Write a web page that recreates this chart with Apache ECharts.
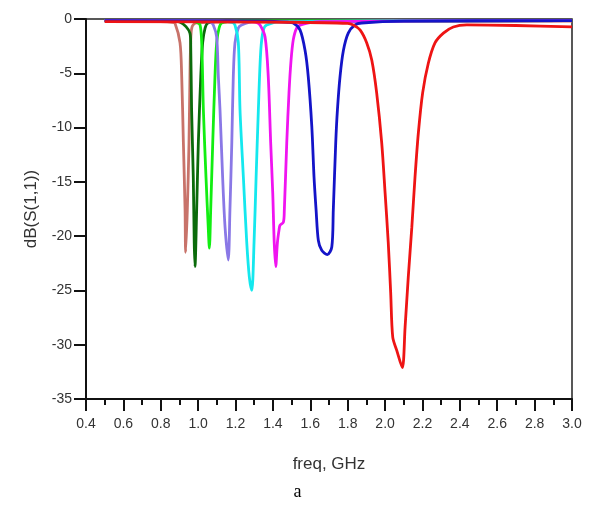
<!DOCTYPE html>
<html><head><meta charset="utf-8">
<script src="https://cdn.jsdelivr.net/npm/echarts@6/dist/echarts.min.js"></script>
<style>html,body{margin:0;padding:0;background:#fff}#c{width:595px;height:506px}</style>
</head><body><div id="c"></div>
<script>
// x tick labels (GHz) and y tick values (dB)
const xTicks = [0.4,0.6,0.8,1.0,1.2,1.4,1.6,1.8,2.0,2.2,2.4,2.6,2.8,3.0];
const yTicks = [0,-5,-10,-15,-20,-25,-30,-35];

// [freq GHz, dB]
const brown = [[0.5,-0.2],[0.8,-0.25],[0.86,-0.3],[0.876,-0.4],[0.903,-2.2],[0.912,-5.3],[0.921,-11.4],[0.93,-17.6],[0.933,-21.5],[0.942,-17.6],[0.951,-11.4],[0.956,-5.3],[0.96,-2.2],[0.967,-0.74],[0.99,-0.35],[1.2,-0.25],[3.0,-0.2]];
const darkGreen = [[0.5,-0.15],[0.85,-0.2],[0.903,-0.3],[0.935,-0.7],[0.956,-1.3],[0.96,-2.2],[0.965,-8.4],[0.974,-14.6],[0.979,-20.6],[0.983,-22.8],[0.992,-17.6],[1.001,-11.4],[1.014,-5.3],[1.024,-2.2],[1.037,-0.83],[1.053,-0.37],[1.15,-0.2],[3.0,-0.15]];
const green = [[0.5,-0.15],[0.95,-0.2],[0.99,-0.3],[1.01,-0.55],[1.019,-2.2],[1.028,-8.4],[1.042,-14.6],[1.054,-19.2],[1.06,-21.1],[1.067,-17.6],[1.078,-11.4],[1.09,-5.3],[1.099,-2.2],[1.112,-0.83],[1.126,-0.37],[1.2,-0.2],[3.0,-0.15]];
const purple = [[0.5,-0.15],[1.0,-0.2],[1.065,-0.3],[1.081,-0.55],[1.099,-1.66],[1.108,-5.3],[1.117,-8.4],[1.131,-14.6],[1.144,-19.2],[1.161,-22.2],[1.17,-17.6],[1.18,-11.4],[1.188,-5.3],[1.197,-2.2],[1.215,-0.83],[1.233,-0.55],[1.3,-0.25],[3.0,-0.15]];
const cyan = [[0.5,-0.15],[1.1,-0.2],[1.18,-0.3],[1.197,-0.55],[1.215,-2.2],[1.224,-8.4],[1.242,-14.6],[1.26,-20.6],[1.274,-23.8],[1.287,-25.0],[1.299,-20.6],[1.31,-14.6],[1.322,-8.4],[1.335,-2.9],[1.349,-1.0],[1.367,-0.55],[1.45,-0.25],[3.0,-0.15]];
const magenta = [[0.5,-0.15],[1.2,-0.2],[1.31,-0.3],[1.331,-0.55],[1.358,-1.66],[1.375,-5.3],[1.388,-11.4],[1.399,-16.0],[1.407,-20.6],[1.415,-22.8],[1.424,-20.6],[1.433,-19.4],[1.438,-19.0],[1.456,-18.7],[1.461,-17.6],[1.474,-11.4],[1.486,-6.8],[1.497,-3.8],[1.509,-1.9],[1.527,-0.83],[1.549,-0.55],[1.65,-0.25],[3.0,-0.15]];
const blue = [[0.5,-0.15],[1.35,-0.2],[1.48,-0.3],[1.509,-0.37],[1.545,-1.0],[1.572,-2.9],[1.589,-5.3],[1.608,-9.9],[1.62,-14.6],[1.631,-17.6],[1.643,-20.4],[1.661,-21.3],[1.691,-21.7],[1.715,-21.0],[1.723,-17.6],[1.736,-11.4],[1.745,-8.4],[1.759,-5.3],[1.777,-2.9],[1.803,-1.3],[1.839,-0.55],[1.875,-0.37],[2.1,-0.2],[3.0,-0.15]];
const red = [[0.5,-0.25],[1.5,-0.3],[1.8,-0.4],[1.83,-0.55],[1.866,-1.0],[1.902,-2.2],[1.929,-3.8],[1.955,-6.8],[1.982,-11.4],[2.0,-16.0],[2.017,-20.6],[2.03,-25.2],[2.041,-29.3],[2.062,-30.5],[2.092,-32.1],[2.107,-28.4],[2.124,-23.8],[2.143,-19.2],[2.16,-14.6],[2.178,-10.5],[2.201,-6.8],[2.231,-4.1],[2.267,-2.2],[2.312,-1.3],[2.365,-0.74],[2.437,-0.55],[2.7,-0.6],[3.0,-0.72]];

const seriesList = [
  ['brown', brown, '#c8736a'],
  ['darkGreen', darkGreen, '#0b6b0b'],
  ['green', green, '#12ee12'],
  ['purple', purple, '#8a78e6'],
  ['cyan', cyan, '#14e8ee'],
  ['magenta', magenta, '#f014f0'],
  ['blue', blue, '#1414c8'],
  ['red', red, '#ee1414']
];

const chart = echarts.init(document.getElementById('c'), null, {renderer:'canvas'});
const font = 'Liberation Sans, Arial, sans-serif';
chart.setOption({
  animation:false,
  backgroundColor:'#fff',
  grid:{left:86, top:19, right:23, bottom:107, show:true, borderColor:'#222', borderWidth:1.5},
  title:{text:'a', left:'center', top:478, textStyle:{fontFamily:'Liberation Serif, Times New Roman, serif', fontWeight:'normal', fontSize:18, color:'#000'}},
  xAxis:{type:'value', min:0.4, max:3.0, interval:0.2,
    name:'freq, GHz', nameLocation:'middle', nameGap:57,
    nameTextStyle:{fontFamily:font, fontSize:17, color:'#333'},
    axisLine:{onZero:false, lineStyle:{color:'#111', width:2}},
    axisTick:{length:12, lineStyle:{color:'#111', width:2}},
    minorTick:{show:true, splitNumber:2, length:6, lineStyle:{color:'#111', width:2}},
    axisLabel:{fontFamily:font, fontSize:14, color:'#333', margin:18, formatter:v=>{const t=xTicks.find(k=>Math.abs(k-v)<1e-6);return t===undefined?'':t.toFixed(1);}},
    splitLine:{show:false}},
  yAxis:{type:'value', min:-35, max:0, interval:5,
    name:'dB(S(1,1))', nameLocation:'middle', nameGap:46,
    nameTextStyle:{fontFamily:font, fontSize:17, color:'#333'},
    axisLine:{onZero:false, lineStyle:{color:'#111', width:2}},
    axisTick:{length:12, lineStyle:{color:'#111', width:2}},
    axisLabel:{fontFamily:font, fontSize:14, color:'#333', margin:14, formatter:v=>{const t=yTicks.find(k=>Math.abs(k-v)<1e-6);return t===undefined?'':String(t);}},
    splitLine:{show:false}},
  series: seriesList.map(([name, data, color]) => ({
    name, type:'line', data, showSymbol:false, smooth:0.3,
    lineStyle:{color, width:2.8}, itemStyle:{color}, clip:true
  }))
});
</script></body></html>
